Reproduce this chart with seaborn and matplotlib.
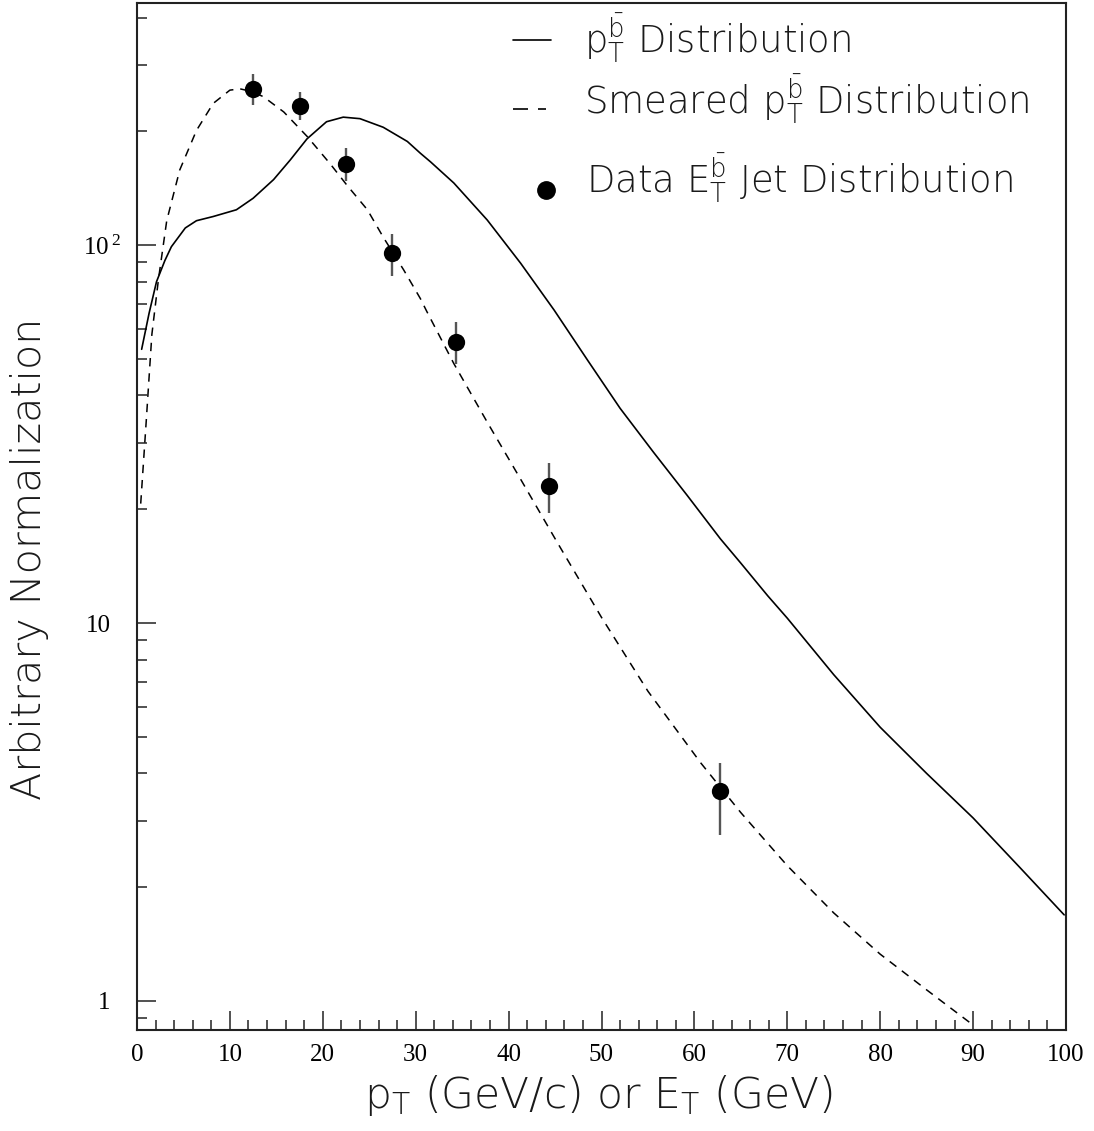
import matplotlib
matplotlib.use("Agg")
import matplotlib.pyplot as plt
import seaborn as sns
from matplotlib import font_manager as fm
from matplotlib.transforms import ScaledTranslation
from matplotlib.ticker import FixedLocator, FuncFormatter, LogLocator, MultipleLocator, NullFormatter
from matplotlib.lines import Line2D

# ---- data ----
solid_x = [0.5, 1.3, 2.1, 3.0, 3.7, 5.2, 6.4, 8.2, 10.7, 12.5, 14.7, 16.5, 18.3, 20.4,
           22.2, 24.0, 26.5, 29.1, 30.5, 31.6, 34.1, 37.7, 41.3, 44.9, 48.5, 52.0,
           55.6, 59.2, 62.8, 65.0, 67.9, 70.0, 75.0, 80.0, 85.0, 90.0, 95.0, 99.8]
solid_y = [53, 66, 80, 91, 99, 111, 116, 119, 124, 133, 149, 168, 191, 212,
           218, 216, 205, 188, 175, 166, 146, 116.5, 89.5, 67.3, 49.6, 37.0,
           28.3, 21.8, 16.7, 14.4, 11.8, 10.3, 7.3, 5.3, 4.0, 3.05, 2.26, 1.69]

smeared_x = [0.4, 1.0, 1.6, 2.3, 3.2, 4.6, 6.4, 8.2, 10.0, 11.1, 12.3, 13.6, 15.8, 18.3,
             20.8, 22.6, 24.8, 26.5, 28.7, 30.5, 31.2, 34.1, 37.7, 41.3, 45.2, 50.0,
             55.0, 60.7, 65.0, 70.0, 75.0, 80.0, 85.0, 90.1]
smeared_y = [20.7, 34.4, 58, 80.8, 116, 158, 201, 237, 257, 259, 255, 247, 225, 194,
             164, 144, 124, 105, 86, 72.2, 66.7, 48.6, 34.0, 24.0, 16.4, 10.35,
             6.6, 4.26, 3.15, 2.28, 1.71, 1.33, 1.07, 0.86]

data_x = [12.5, 17.5, 22.5, 27.5, 34.3, 44.4, 62.8]
data_y = [258, 234, 164, 95, 55.5, 23.0, 3.6]
data_err_lo = [23, 20, 16.5, 12.3, 7.0, 3.5, 0.85]
data_err_hi = [25, 20, 16.5, 12.3, 7.0, 3.5, 0.66]

x_ticks = [0, 10, 20, 30, 40, 50, 60, 70, 80, 90, 100]
y_ticks = [1, 10, 100]
y_tick_labels = {1: "1", 10: "10", 100: r"$\mathregular{10^{\,2}}$"}

legend_labels = [r"$\mathregular{p_T^{\bar{b}}}$ Distribution",
                 r"Smeared $\mathregular{p_T^{\bar{b}}}$ Distribution",
                 r"Data $\mathregular{E_T^{\bar{b}}}$ Jet Distribution"]
x_label = r"$\mathregular{p_T}$ (GeV/c) or $\mathregular{E_T}$ (GeV)"
y_label = "Arbitrary Normalization"


def pick_light_font():
    def wval(w):
        if isinstance(w, (int, float)):
            return w
        return {"thin": 100, "extra-light": 200, "ultralight": 200, "light": 300}.get(str(w).lower(), 400)
    for fam in ["DejaVu Sans", "Open Sans", "Noto Sans", "Roboto", "Lato"]:
        best = None
        for f in fm.fontManager.ttflist:
            if f.name == fam and f.style == "normal" and 150 <= wval(f.weight) <= 300:
                if best is None or wval(f.weight) < best:
                    best = wval(f.weight)
        if best is not None:
            return fam, best
    return "Lato", 300


# ---- style ----
sns.set_theme(style="white")
light_family, light_weight = pick_light_font()
plt.rcParams["font.family"] = [light_family, "DejaVu Sans"]
plt.rcParams["font.weight"] = light_weight

W, H = 1094, 1131
fig = plt.figure(figsize=(W / 100, H / 100), dpi=100)
ax = fig.add_axes([137 / W, 1 - 1030 / H, (1066 - 137) / W, (1030 - 3) / H])

sns.lineplot(x=solid_x, y=solid_y, ax=ax, color="black", lw=1.2,
             sort=False, estimator=None)
sns.lineplot(x=smeared_x, y=smeared_y, ax=ax, color="black", lw=1.1,
             sort=False, estimator=None)
ax.lines[-1].set_dashes([5.5, 4.5])

ax.errorbar(data_x, data_y, yerr=[data_err_lo, data_err_hi], fmt="none",
            ecolor="#555555", elinewidth=1.7, capsize=0, zorder=3)
sns.scatterplot(x=data_x, y=data_y, ax=ax, s=155, color="black",
                edgecolor="black", linewidth=0, zorder=4)

ax.set_yscale("log")
ax.set_xlim(0, 100)
ax.set_ylim(0.838, 437)

ax.xaxis.set_major_locator(FixedLocator(x_ticks))
ax.xaxis.set_minor_locator(MultipleLocator(2))
ax.yaxis.set_major_locator(FixedLocator(y_ticks))
ax.yaxis.set_minor_locator(LogLocator(base=10, subs=[2, 3, 4, 5, 6, 7, 8, 9], numticks=20))
ax.yaxis.set_major_formatter(FuncFormatter(lambda v, p: y_tick_labels.get(int(round(v)), "")))
ax.yaxis.set_minor_formatter(NullFormatter())

ax.tick_params(which="both", direction="in", top=False, right=False,
               left=True, bottom=True, color="#333333", width=1.2)
ax.tick_params(which="major", length=14)
ax.tick_params(which="minor", length=7)
ax.tick_params(axis="x", which="major", pad=10, labelsize=18,
               labelfontfamily="Liberation Serif", labelcolor="black")
ax.tick_params(axis="y", which="major", pad=19, labelsize=18,
               labelfontfamily="Liberation Serif", labelcolor="black")

for s in ax.spines.values():
    s.set_color("#222222")
    s.set_linewidth(1.5)
    s.set_visible(True)

ax.set_xlabel("")
ax.set_ylabel("")

txtcol = "#1a1a1a"
t_x = fig.text(598 / W, 1 - 1095 / H, x_label, ha="center", va="center",
               fontsize=30, color=txtcol)
t_y = fig.text(30 / W, 1 - 559 / H, y_label, ha="center", va="center", rotation=90,
               fontsize=30, color=txtcol)

# ---- legend (hand placed as in the reference) ----
fig.add_artist(Line2D([513 / W, 551 / W], [1 - 40 / H] * 2, color="black", lw=1.2))
fig.add_artist(Line2D([513 / W, 546 / W], [1 - 109 / H] * 2, color="black", lw=1.2,
                      dashes=[9, 6]))
fig.add_artist(Line2D([546 / W], [1 - 190 / H], marker="o", ms=12.5, color="black", lw=0))

leg_texts = [
    fig.text(584 / W, 1 - 52 / H, legend_labels[0], ha="left", va="baseline",
             fontsize=25, color=txtcol),
    fig.text(584 / W, 1 - 113 / H, legend_labels[1], ha="left", va="baseline",
             fontsize=25, color=txtcol),
    fig.text(586 / W, 1 - 192 / H, legend_labels[2], ha="left", va="baseline",
             fontsize=25, color=txtcol),
]

# fit text sizes to the extents seen in the reference
fig.canvas.draw()
r = fig.canvas.get_renderer()
w_leg = leg_texts[1].get_window_extent(r).width
for t in leg_texts:
    t.set_fontsize(25 * 446 / w_leg)
w_xl = t_x.get_window_extent(r).width
t_x.set_fontsize(30 * 468 / w_xl)
h_yl = t_y.get_window_extent(r).height
t_y.set_fontsize(30 * 482 / h_yl)

# the "10^2" label sits a little to the right, as in the reference
for tick in ax.yaxis.get_major_ticks():
    lab = tick.label1
    if "10^" in lab.get_text():
        lab.set_transform(lab.get_transform() + ScaledTranslation(10 / 100, 0, fig.dpi_scale_trans))

fig.savefig("out.png", dpi=100)
